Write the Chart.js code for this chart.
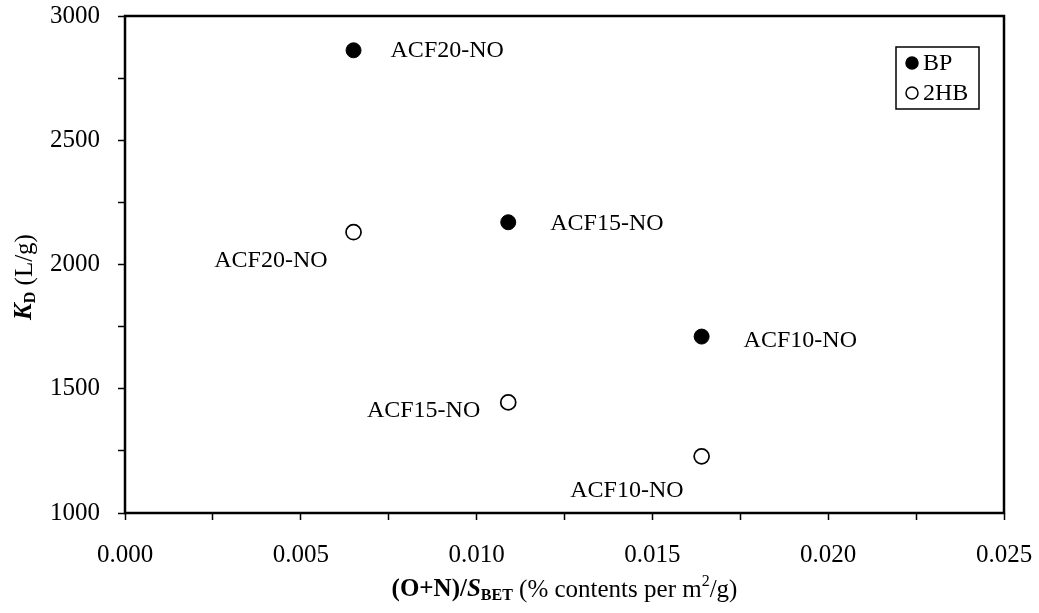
<!DOCTYPE html>
<html>
<head>
<meta charset="utf-8">
<script src="https://cdn.jsdelivr.net/npm/chart.js"></script>
<style>
  body { margin: 0; background: #fff; }
  #wrap { width: 1039px; height: 613px; }
</style>
</head>
<body>
<div id="wrap"><canvas id="kdChart" width="1039" height="613"></canvas></div>
<script>
// data
const samples = ["ACF10-NO", "ACF15-NO", "ACF20-NO"];
const surfaceRatio = [0.0164, 0.0109, 0.0065];   // (O+N)/S_BET
const kdBP = [1710, 2170, 2862];
const kd2HB = [1228, 1445, 2130];
const seriesNames = ["BP", "2HB"];
const xMajorTicks = [0.000, 0.005, 0.010, 0.015, 0.020, 0.025];
const yMajorTicks = [1000, 1500, 2000, 2500, 3000];

const FONT = '"Liberation Serif", "Times New Roman", serif';

function isMajor(v, list) {
  return list.some(t => Math.abs(t - v) < 1e-9);
}

// text with mixed fonts (bold, italic, sub/superscript)
function drawRich(ctx, parts, x, y) {
  let total = 0;
  parts.forEach(p => { ctx.font = p.font; total += ctx.measureText(p.text).width; });
  let cx = x - total / 2;
  ctx.textBaseline = "middle";
  ctx.textAlign = "left";
  parts.forEach(p => {
    ctx.font = p.font;
    ctx.fillText(p.text, cx, y + (p.dy || 0));
    cx += ctx.measureText(p.text).width;
  });
}

const framePlugin = {
  id: "frame",
  afterDraw(chart) {
    const { ctx, chartArea: a } = chart;
    ctx.save();
    ctx.strokeStyle = "#000";
    ctx.lineWidth = 2.5;
    ctx.strokeRect(a.left, a.top, a.right - a.left, a.bottom - a.top);

    // axis titles
    ctx.fillStyle = "#000";
    drawRich(ctx, [
      { text: "(O+N)/", font: "bold 25px " + FONT },
      { text: "S", font: "italic bold 25px " + FONT },
      { text: "BET", font: "bold 16px " + FONT, dy: 6 },
      { text: " (% contents per m", font: "25px " + FONT },
      { text: "2", font: "16px " + FONT, dy: -8 },
      { text: "/g)", font: "25px " + FONT }
    ], (a.left + a.right) / 2, 590);

    ctx.translate(25, 277);
    ctx.rotate(-Math.PI / 2);
    drawRich(ctx, [
      { text: "K", font: "italic bold 25px " + FONT },
      { text: "D", font: "bold 16px " + FONT, dy: 6 },
      { text: " (L/g)", font: "25px " + FONT }
    ], 0, 0);
    ctx.restore();
  }
};

// sample names next to each point
const pointLabelPlugin = {
  id: "pointLabels",
  afterDatasetsDraw(chart) {
    const ctx = chart.ctx;
    ctx.save();
    ctx.fillStyle = "#000";
    ctx.font = "24px " + FONT;
    ctx.textBaseline = "middle";
    chart.data.datasets.forEach((ds, di) => {
      const meta = chart.getDatasetMeta(di);
      meta.data.forEach((pt, i) => {
        const off = ds.labelOffsets[i];
        ctx.textAlign = off.align;
        ctx.fillText(samples[i], pt.x + off.dx, pt.y + off.dy);
      });
    });
    ctx.restore();
  }
};

// legend box inside the plot
const boxLegendPlugin = {
  id: "boxLegend",
  afterDraw(chart) {
    const ctx = chart.ctx;
    const box = { x: 896, y: 47, w: 83, h: 62 };
    ctx.save();
    ctx.fillStyle = "#fff";
    ctx.fillRect(box.x, box.y, box.w, box.h);
    ctx.strokeStyle = "#000";
    ctx.lineWidth = 1.5;
    ctx.strokeRect(box.x, box.y, box.w, box.h);
    chart.data.datasets.forEach((ds, i) => {
      const cy = box.y + 16 + i * 30;
      ctx.beginPath();
      ctx.arc(box.x + 16, cy, 6, 0, Math.PI * 2);
      ctx.fillStyle = ds.backgroundColor;
      ctx.fill();
      ctx.lineWidth = 1.5;
      ctx.strokeStyle = "#000";
      ctx.stroke();
      ctx.fillStyle = "#000";
      ctx.font = "24px " + FONT;
      ctx.textAlign = "left";
      ctx.textBaseline = "middle";
      ctx.fillText(ds.label, box.x + 27, cy + 1);
    });
    ctx.restore();
  }
};

// keep the plot area fixed: no extra room for half tick labels
function noEdgePadding(s) {
  s.paddingTop = 0;
  s.paddingBottom = 0;
  s.paddingLeft = 0;
  s.paddingRight = 0;
}

new Chart(document.getElementById("kdChart"), {
  type: "scatter",
  data: {
    datasets: [
      {
        label: seriesNames[0],
        data: surfaceRatio.map((x, i) => ({ x, y: kdBP[i] })),
        backgroundColor: "#000",
        borderColor: "#000",
        borderWidth: 1,
        pointRadius: 7.5,
        labelOffsets: [
          { dx: 42, dy: 4, align: "left" },
          { dx: 42, dy: 1, align: "left" },
          { dx: 37, dy: 0, align: "left" }
        ]
      },
      {
        label: seriesNames[1],
        data: surfaceRatio.map((x, i) => ({ x, y: kd2HB[i] })),
        backgroundColor: "#fff",
        borderColor: "#000",
        borderWidth: 1.7,
        pointRadius: 7.5,
        labelOffsets: [
          { dx: -18, dy: 34, align: "right" },
          { dx: -28, dy: 8, align: "right" },
          { dx: -26, dy: 29, align: "right" }
        ]
      }
    ]
  },
  options: {
    responsive: false,
    animation: false,
    layout: { padding: { left: 0, top: 16, right: 35, bottom: 0 } },
    plugins: { legend: { display: false }, tooltip: { enabled: false } },
    scales: {
      x: {
        type: "linear",
        min: 0,
        max: 0.025,
        afterFit: s => { s.height = 100; noEdgePadding(s); },
        border: { display: false },
        grid: { drawOnChartArea: false, drawTicks: true, tickLength: 7, tickWidth: 1.5, tickColor: "#000" },
        ticks: {
          stepSize: 0.0025,
          autoSkip: false,
          maxRotation: 0,
          padding: 20,
          color: "#000",
          font: { family: FONT, size: 25 },
          callback: v => isMajor(v, xMajorTicks) ? v.toFixed(3) : ""
        }
      },
      y: {
        min: 1000,
        max: 3000,
        afterFit: s => { s.width = 125; noEdgePadding(s); },
        border: { display: false },
        grid: { drawOnChartArea: false, drawTicks: true, tickLength: 7, tickWidth: 1.5, tickColor: "#000" },
        ticks: {
          stepSize: 250,
          autoSkip: false,
          padding: 18,
          color: "#000",
          font: { family: FONT, size: 25 },
          callback: v => isMajor(v, yMajorTicks) ? String(v) : ""
        }
      }
    }
  },
  plugins: [pointLabelPlugin, framePlugin, boxLegendPlugin]
});
</script>
</body>
</html>
